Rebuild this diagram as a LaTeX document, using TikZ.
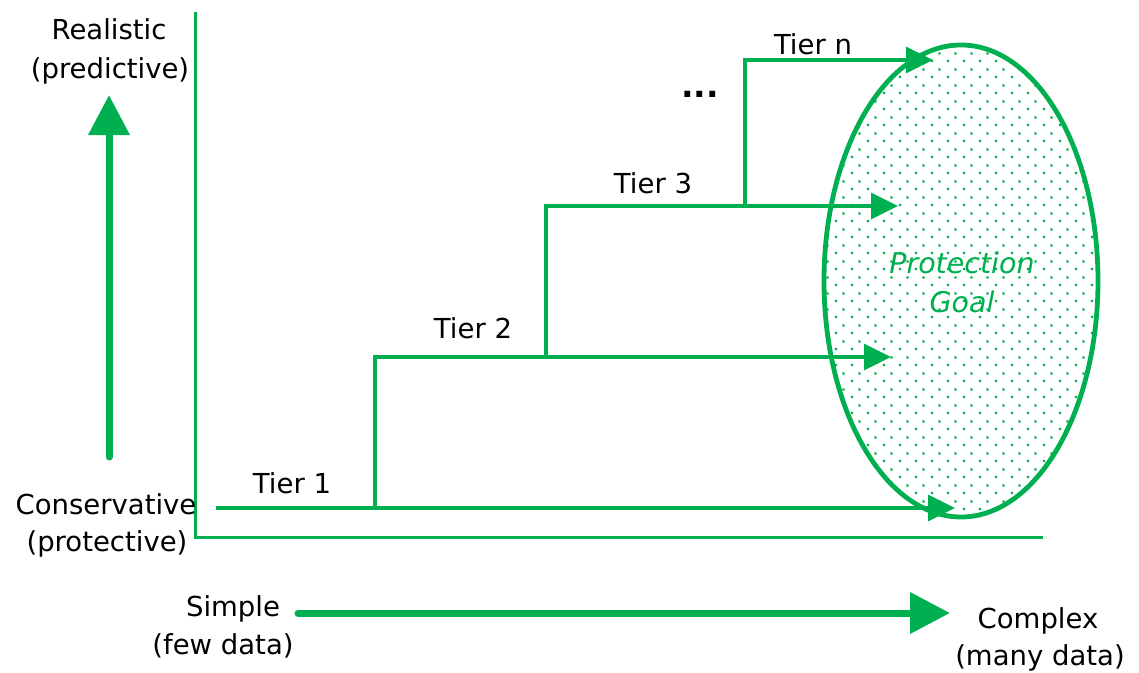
\documentclass[tikz,border=0pt]{standalone}
\usepackage{fontspec}
\setmainfont{DejaVu Sans}
\usetikzlibrary{arrows.meta,patterns.meta,shapes.geometric}
\definecolor{pgreen}{HTML}{00B050}

% staggered sparse dot fill for the goal region
\tikzdeclarepattern{
  name=sparsedots,
  type=uncolored,
  bounding box={(0pt,0pt) and (16pt,16pt)},
  tile size={(16pt,16pt)},
  code={
    \fill (3pt,3pt) rectangle (5.4pt,5.4pt);
    \fill (11pt,11pt) rectangle (13.4pt,13.4pt);
  }
}

\begin{document}
\begin{tikzpicture}[x=1pt,y=-1pt,
  lbl/.style={font=\fontsize{27.5}{32}\selectfont, inner sep=0pt, anchor=base},
  goaltext/.style={font=\fontsize{28.5}{34}\selectfont\itshape, text=pgreen, inner sep=0pt, anchor=base},
  axisline/.style={draw=pgreen, line width=3pt},
  tierline/.style={draw=pgreen, line width=3.2pt},
  tierarrow/.style={tierline, -{Triangle[length=27pt,width=26pt]}},
  bigarrow/.style={draw=pgreen, line width=7pt, line cap=round, -{Triangle[length=40pt,width=40pt]}},
  goalshape/.style={ellipse, draw=pgreen, line width=4.8pt, pattern={sparsedots}, pattern color=pgreen,
    minimum width=274pt, minimum height=472pt, inner sep=0pt}
]
\useasboundingbox (0,0) rectangle (1139,672);

% protection goal region
\node[goalshape] (goal) at (961,281) {};
\node[goaltext] (goal1) at (962,273) {Protection};
\node[goaltext] (goal2) at (962,312) {Goal};

% axes
\coordinate (ytop) at (195,12);
\coordinate (xend) at (1043,537);
\draw[axisline] (ytop) |- (xend);

% tier staircase
\coordinate (t1start) at (216,508);
\coordinate (t1end) at (955,508);
\coordinate (s1) at (375,508);
\coordinate (s2) at (546,357);
\coordinate (s3) at (745,206);
\coordinate (t2end) at (891,357);
\coordinate (t3end) at (898,206);
\coordinate (tnend) at (933,60);

\draw[tierarrow] (t1start) -- (t1end);
\draw[tierline] (s1) |- (s2) |- (s3);
\draw[tierarrow] (s3) |- (tnend);
\draw[tierarrow] (s2) -- (t2end);
\draw[tierarrow] (s3) -- (t3end);

% tier labels
\node[lbl] (tier1) at (292,493) {Tier 1};
\node[lbl] (tier2) at (473,338) {Tier 2};
\node[lbl] (tier3) at (653,193) {Tier 3};
\node[lbl] (tiern) at (813,54) {Tier n};
\node[lbl, font=\fontsize{33}{36}\selectfont\bfseries] (ellipsis) at (700,97) {...};

% vertical scale
\coordinate (up0) at (109,457);
\coordinate (up1) at (109,95);
\draw[bigarrow] (up0) -- (up1);
\node[lbl] (realistic) at (109,39) {Realistic};
\node[lbl] (predictive) at (110,78) {(predictive)};
\node[lbl] (conservative) at (106,514) {Conservative};
\node[lbl] (protective) at (107,551) {(protective)};

% horizontal scale
\coordinate (rt0) at (298,613);
\coordinate (rt1) at (950,613);
\draw[bigarrow] (rt0) -- (rt1);
\node[lbl] (simple) at (233,616) {Simple};
\node[lbl] (fewdata) at (223,654) {(few data)};
\node[lbl] (complex) at (1038,628) {Complex};
\node[lbl] (manydata) at (1040,665) {(many data)};
\end{tikzpicture}
\end{document}
